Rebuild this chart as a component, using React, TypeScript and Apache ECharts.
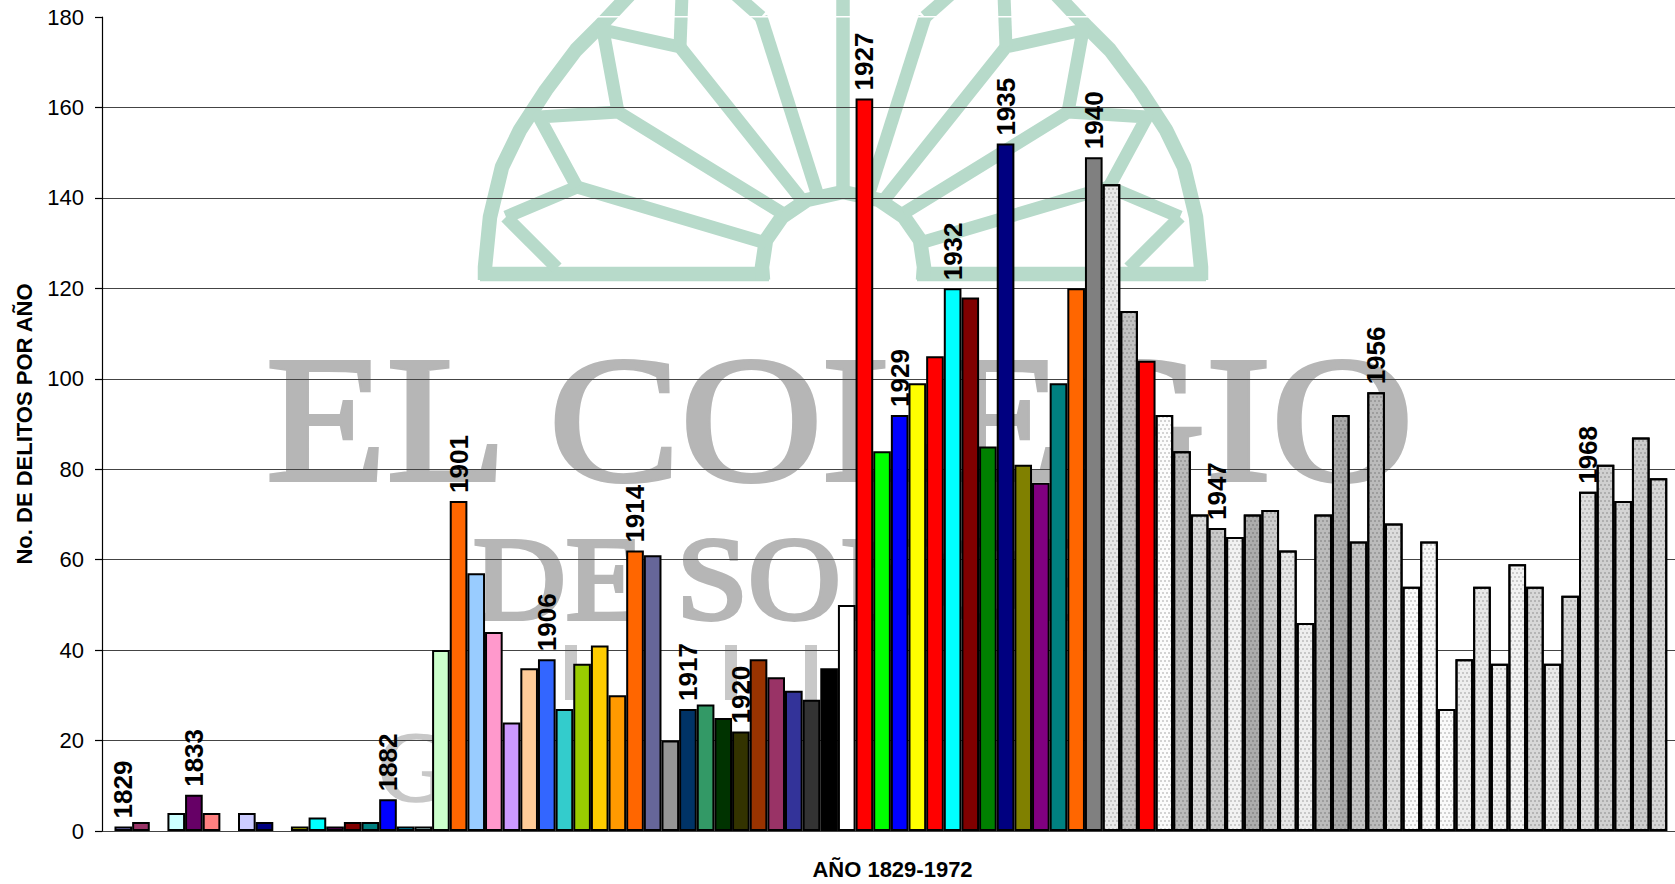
import React, { useEffect, useRef } from "react";
import * as echarts from "echarts";

const values: (number | null)[] = [
  1, 2, null, 4, 8, 4, null, 4, 2, null, 1, 3, 1, 2, 2, 7, 1, 1, 40, 73, 57, 44, 24, 36, 38, 27, 37, 41, 30, 62,
  61, 20, 27, 28, 25, 22, 38, 34, 31, 29, 36, 50, 162, 84, 92, 99, 105, 120, 118, 85, 152, 81, 77, 99, 120, 149,
  143, 115, 104, 92, 84, 70, 67, 65, 70, 71, 62, 46, 70, 92, 64, 97, 68, 54, 64, 27, 38, 54, 37, 59, 54, 37, 52,
  75, 81, 73, 87, 78,
];

const colors: (string | null)[] = [
  "#9999FF", "#993366", null, "#CCFFFF", "#660066", "#FF8080", null, "#CCCCFF", "#000080", null,
  "#FFFF00", "#00FFFF", "#800080", "#800000", "#008080", "#0000FF", "#00CCFF", "#CCFFFF", "#CCFFCC", "#FF6600",
  "#99CCFF", "#FF99CC", "#CC99FF", "#FFCC99", "#3366FF", "#33CCCC", "#99CC00", "#FFCC00", "#FF9900", "#FF6600",
  "#666699", "#969696", "#003366", "#339966", "#003300", "#333300", "#993300", "#993366", "#333399", "#333333",
  "#000000", "#FFFFFF", "#FF0000", "#00FF00", "#0000FF", "#FFFF00", "#FF0000", "#00FFFF", "#800000", "#008000",
  "#000080", "#808000", "#800080", "#008080", "#FF6600", "#808080",
];

// Pale and dark dotted greys of the last bars, in order; the red one is plain
const dottedColors: string[] = [
  "#E8E8E8", "#C2C2C2", "#FF0000", "#FCFCFC", "#BBBBBB", "#DADADA", "#C8C8C8", "#F2F2F2", "#ACACAC", "#CCCCCC",
  "#E8E8E8", "#EEEEEE", "#BBBBBB", "#AAAAAA", "#C4C4C4", "#BBBBBB", "#DCDCDC", "#FCFCFC", "#F8F8F8", "#FAFAFA",
  "#EEEEEE", "#E8E8E8", "#F0F0F0", "#F2F2F2", "#D8D8D8", "#EAEAEA", "#D8D8D8", "#DEDEDE", "#D0D0D0", "#D4D4D4",
  "#CCCCCC", "#D6D6D6",
];

const labelSlots: number[] = [0, 4, 15, 19, 24, 29, 32, 35, 42, 44, 47, 50, 55, 62, 71, 83];
const labelYears: string[] = [
  "1829", "1833", "1882", "1901", "1906", "1914", "1917", "1920", "1927", "1929", "1932", "1935", "1940", "1947", "1956", "1968",
];

const yAxisTitle = "No. DE DELITOS POR AÑO";
const xAxisTitle = "AÑO 1829-1972";

const crestColor = "#B7DACA";
const waterGray = "#B6B6B6";
const mirrorX = 1686;
const crestLeft: number[][][] = [
  [[485, 280], [485, 267], [490, 217], [502, 167], [520, 130], [546, 90], [576, 50], [599, 27], [632, -8]],
  [[480, 274], [769, 274]],
  [[763, 280], [762, 267], [766, 240], [782, 217], [807, 200], [843, 192]],
  [[506, 217], [557, 268]],
  [[506, 217], [577, 187], [766, 243]],
  [[577, 187], [539, 117], [618, 112], [782, 213]],
  [[618, 112], [603, 30], [680, 47], [802, 200]],
  [[680, 47], [682, -5]],
  [[761, 17], [817, 193]],
  [[761, 17], [736, -5]],
  [[843, 192], [843, -5]],
];

function crestElements() {
  const out: any[] = [];
  const add = (pts: number[][], width: number) =>
    out.push({
      type: "polyline",
      z: -5,
      silent: true,
      shape: { points: pts },
      style: { stroke: crestColor, lineWidth: width, fill: "none", lineJoin: "round" },
    });
  crestLeft.forEach((line, i) => {
    const w = i < 3 ? 14.5 : 13;
    add(line, w);
    add(line.map(([x, y]) => [mirrorX - x, y]), w);
  });
  return out;
}

function watermark() {
  const text = (t: string, x: number, y: number, size: number, sx: number, fill: string, stroke: number) => ({
    type: "text",
    z: -5,
    silent: true,
    x,
    y,
    scaleX: sx,
    style: {
      text: t,
      x: 0,
      y: 0,
      fill,
      stroke: fill,
      lineWidth: stroke,
      font: `${size}px "Liberation Serif"`,
      verticalAlign: "top",
    },
  });
  const stem = (x: number) => ({
    type: "rect",
    z: -5,
    silent: true,
    shape: { x, y: 645, width: 12, height: 55 },
    style: { fill: "#C8C8C8" },
  });
  return [
    ...crestElements(),
    text("EL COLEGIO", 266, 329, 180, 1.095, waterGray, 4),
    text("DE SONORA", 473, 520, 118, 1.09, waterGray, 4),
    text("G", 378, 716, 100, 1.0, "#C8C8C8", 2),
    stem(565),
    stem(725),
    stem(805),
    // pale strip on the crest, at the top of the scale
    { type: "rect", z: -4, silent: true, shape: { x: 102, y: 16, width: 1573, height: 1.6 }, style: { fill: "#FFFFFF" } },
  ];
}

export default function App() {
  const ref = useRef<HTMLDivElement>(null);

  useEffect(() => {
    const chart = echarts.init(ref.current!, undefined, { renderer: "svg" });
    const allColors = [...colors, ...dottedColors];
    const data = values.map((v, i) => {
      const slotLabel = labelSlots.indexOf(i);
      const dotted = i >= colors.length && allColors[i] !== "#FF0000";
      return {
        value: [i, v],
        itemStyle: {
          color: allColors[i] ?? "transparent",
          ...(dotted
            ? {
                decal: {
                  symbol: "rect",
                  symbolSize: 1,
                  color: "rgba(0,0,0,0.16)",
                  dashArrayX: [[2, 2], [0, 2, 2, 0]],
                  dashArrayY: [2],
                  rotation: 0,
                },
              }
            : {}),
        },
        label:
          slotLabel >= 0
            ? {
                show: true,
                formatter: labelYears[slotLabel],
                position: "top",
                rotate: 90,
                align: "left",
                verticalAlign: "middle",
                distance: 8,
                fontFamily: '"Liberation Sans"',
                fontWeight: "bold",
                fontSize: 26,
                color: "#000",
              }
            : { show: false },
      };
    });

    chart.setOption({
      animation: false,
      backgroundColor: "#FFFFFF",
      grid: { left: 102, top: 17, right: 0, height: 814, outerBoundsMode: "none" },
      xAxis: {
        type: "value",
        min: -1.208,
        max: 87.94,
        axisLine: { show: false },
        axisTick: { show: false },
        axisLabel: { show: false },
        splitLine: { show: false },
        name: xAxisTitle,
        nameLocation: "middle",
        nameGap: 27,
        nameMoveOverlap: false,
        nameTextStyle: {
          fontFamily: '"Liberation Sans"',
          fontWeight: "bold",
          fontSize: 22,
          color: "#000",
          padding: [0, 0, 0, 8],
        },
      },
      yAxis: {
        type: "value",
        min: 0,
        max: 180,
        interval: 20,
        axisLine: { show: true, onZero: false, lineStyle: { color: "#000", width: 1.2 } },
        axisTick: { show: true, length: 7, lineStyle: { color: "#000", width: 1.2 } },
        axisLabel: { margin: 18, fontFamily: '"Liberation Sans"', fontSize: 22, color: "#000" },
        splitLine: { show: true, showMaxLine: false, lineStyle: { color: "#444", width: 1 } },
        name: yAxisTitle,
        nameLocation: "middle",
        nameRotate: 90,
        nameGap: 67,
        nameMoveOverlap: false,
        nameTextStyle: {
          fontFamily: '"Liberation Sans"',
          fontWeight: "bold",
          fontSize: 22,
          color: "#000",
        },
      },
      graphic: { elements: watermark() },
      series: [
        {
          type: "bar",
          barWidth: 17.65,
          z: 3,
          itemStyle: { borderColor: "#000", borderWidth: 2 },
          data,
        },
      ],
    });
    return () => chart.dispose();
  }, []);

  return <div ref={ref} style={{ position: "fixed", left: 0, top: 0, width: 1675, height: 884 }} />;
}
